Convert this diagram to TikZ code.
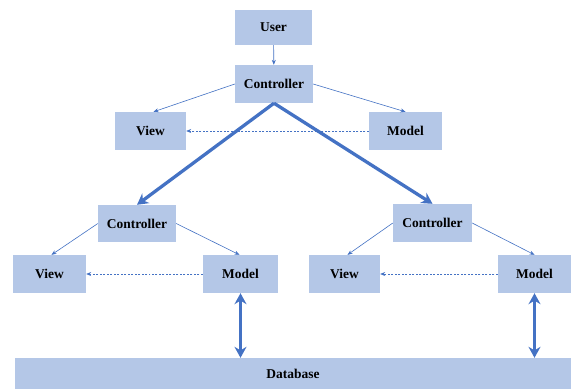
\documentclass[tikz,border=0pt]{standalone}
\usepackage{fontspec}
\setmainfont{Liberation Serif}
\usetikzlibrary{arrows.meta}
\definecolor{boxfill}{RGB}{180,199,231}
\definecolor{arrowblue}{RGB}{68,114,196}
\tikzset{
  box/.style={rectangle, fill=boxfill, draw=none, inner sep=0pt, font=\fontsize{13.5}{15}\selectfont\bfseries},
  thinarrow/.style={draw=arrowblue, line width=0.6pt, -{Stealth[length=5pt,width=4pt]}},
  dasharrow/.style={draw=arrowblue, line width=0.6pt, dashed, dash pattern=on 2pt off 1.5pt, -{Stealth[length=5pt,width=4pt]}},
  thickarrow/.style={draw=arrowblue, line width=3.3pt, -{Stealth[length=11pt,width=12pt]}},
  dblarrow/.style={draw=arrowblue, line width=3.3pt, {Stealth[length=11pt,width=12pt]}-{Stealth[length=11pt,width=12pt]}}
}
\begin{document}
\begin{tikzpicture}[x=1bp,y=-1bp]
\useasboundingbox[fill=white] (0,0) rectangle (571,389);
% top level
\node[box, minimum width=77bp, minimum height=35bp] (user) at (273.5,27.5) {User};
\node[box, minimum width=78bp, minimum height=38bp] (c0) at (274,84) {Controller};
\node[box, minimum width=71bp, minimum height=38bp] (v0) at (150.5,131) {View};
\node[box, minimum width=73bp, minimum height=38bp] (m0) at (405.5,131) {Model};
% left level
\node[box, minimum width=78bp, minimum height=37bp] (c1) at (137,223.5) {Controller};
\node[box, minimum width=73bp, minimum height=38bp] (v1) at (49.5,274) {View};
\node[box, minimum width=75bp, minimum height=38bp] (m1) at (240.5,274) {Model};
% right level
\node[box, minimum width=79bp, minimum height=38bp] (c2) at (432.5,223) {Controller};
\node[box, minimum width=71bp, minimum height=38bp] (v2) at (344.5,274) {View};
\node[box, minimum width=73bp, minimum height=38bp] (m2) at (534.5,274) {Model};
% database
\node[box, minimum width=556bp, minimum height=31bp] (db) at (293,373.5) {Database};
% connectors
\draw[thinarrow] (user) -- (c0);
\draw[thinarrow] (c0.west) -- ([xshift=3bp]v0.north);
\draw[thinarrow] (c0.east) -- (m0.north);
\draw[dasharrow] (m0) -- (v0);
\draw[thickarrow] (c0.south) -- (c1.north);
\draw[thickarrow] (c0.south) -- (c2.north);
\draw[thinarrow] (c1.west) -- ([xshift=2bp]v1.north);
\draw[thinarrow] (c1.east) -- ([xshift=-1bp]m1.north);
\draw[dasharrow] (m1) -- (v1);
\draw[thinarrow] (c2.west) -- ([xshift=3bp]v2.north);
\draw[thinarrow] (c2.east) -- (m2.north);
\draw[dasharrow] (m2) -- (v2);
\draw[dblarrow] (m1.south) -- (m1.south |- db.north);
\draw[dblarrow] (m2.south) -- (m2.south |- db.north);
\end{tikzpicture}
\end{document}
